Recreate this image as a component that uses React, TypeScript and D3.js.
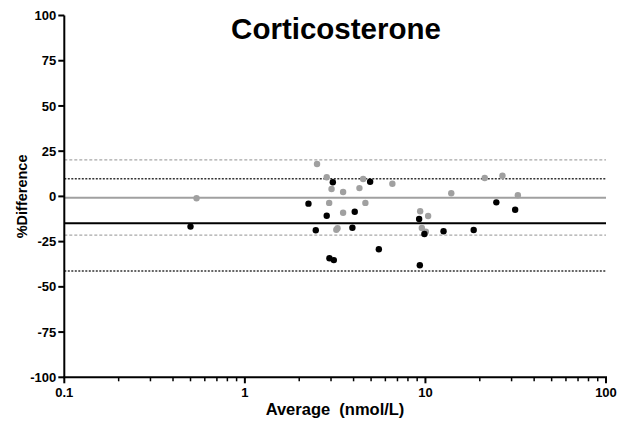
import React from "react";
import * as d3 from "d3";

const grayX = [0.54, 2.51, 2.84, 3.02, 3.5, 4.52, 4.31, 6.56, 2.93, 4.65, 3.5, 3.21, 3.26, 9.35, 10.35, 9.55, 10.05, 13.9, 21.3, 26.7, 32.5];
const grayY = [-1.0, 17.9, 10.6, 4.1, 2.4, 9.6, 4.6, 7.0, -3.6, -3.6, -9.0, -18.4, -17.6, -8.2, -10.8, -17.5, -19.5, 1.7, 10.2, 11.4, 0.6];
const blackX = [0.5, 3.07, 4.94, 2.25, 4.06, 2.84, 2.47, 3.94, 5.52, 2.94, 3.11, 9.31, 9.23, 9.87, 12.6, 18.5, 24.7, 31.4];
const blackY = [-16.7, 7.8, 8.1, -4.0, -8.5, -10.7, -18.7, -17.3, -29.2, -34.2, -35.2, -38.1, -12.5, -20.8, -19.3, -18.6, -3.3, -7.4];
const grayLines = { mean: -0.7, upper: 20.2, lower: -21.4 };
const blackLines = { mean: -14.8, upper: 9.7, lower: -41.3 };
const yTicks = [100, 75, 50, 25, 0, -25, -50, -75, -100];
const xTicks = [0.1, 1, 10, 100];
const xTickLabels = ["0.1", "1", "10", "100"];
const title = "Corticosterone";

export default function App() {
  const W = 624, H = 424;
  const x = d3.scaleLog().domain([0.1, 100]).range([64.3, 606]);
  const y = d3.scaleLinear().domain([-100, 100]).range([377.3, 15.5]);
  const minor: number[] = [];
  for (const d of [0.1, 1, 10]) for (let k = 2; k <= 9; k++) minor.push(d * k);
  const font = "'Liberation Sans', Arial, sans-serif";
  const x0 = x.range()[0], x1 = x.range()[1];
  const hline = (v: number, stroke: string, dash: string | undefined, w: number, key: string) => (
    <line key={key} x1={x0} x2={x1} y1={y(v)} y2={y(v)} stroke={stroke} strokeWidth={w} strokeDasharray={dash} />
  );
  return (
    <svg width={W} height={H} style={{ position: "absolute", left: 0, top: 0, background: "#fff" }}>
      <rect width={W} height={H} fill="#fff" />
      <text x={336} y={39} textAnchor="middle" fontFamily={font} fontWeight="bold" fontSize={29.5}>{title}</text>
      {hline(grayLines.upper, "#a8a8a8", "3,2", 1.2, "gu")}
      {hline(grayLines.lower, "#a8a8a8", "3,2", 1.2, "gl")}
      {hline(grayLines.mean, "#a0a0a0", undefined, 2, "gm")}
      {hline(blackLines.upper, "#333", "2,1.5", 1.5, "bu")}
      {hline(blackLines.lower, "#333", "2,1.5", 1.5, "bl")}
      {hline(blackLines.mean, "#000", undefined, 2, "bm")}
      {grayX.map((v, i) => <circle key={"g" + i} cx={x(v)} cy={y(grayY[i])} r={3.2} fill="#a0a0a0" />)}
      {blackX.map((v, i) => <circle key={"b" + i} cx={x(v)} cy={y(blackY[i])} r={3.2} fill="#000" />)}
      <line x1={x0} x2={x0} y1={y(100)} y2={y(-100)} stroke="#000" strokeWidth={2} />
      <line x1={x0 - 1} x2={x1 + 1} y1={y(-100)} y2={y(-100)} stroke="#000" strokeWidth={2} />
      {yTicks.map((t) => (
        <g key={"yt" + t}>
          <line x1={x0 - 6} x2={x0} y1={y(t)} y2={y(t)} stroke="#000" strokeWidth={2} />
          <text x={x0 - 8} y={y(t)} dy="0.35em" textAnchor="end" fontFamily={font} fontWeight="bold" fontSize={13}>{t}</text>
        </g>
      ))}
      {xTicks.map((t, i) => (
        <g key={"xt" + t}>
          <line x1={x(t)} x2={x(t)} y1={y(-100)} y2={y(-100) + 6} stroke="#000" strokeWidth={2} />
          <text x={x(t)} y={y(-100) + 20} textAnchor="middle" fontFamily={font} fontWeight="bold" fontSize={13}>{xTickLabels[i]}</text>
        </g>
      ))}
      {minor.map((t) => (
        <line key={"m" + t} x1={x(t)} x2={x(t)} y1={y(-100)} y2={y(-100) + 4} stroke="#000" strokeWidth={1.5} />
      ))}
      <text x={335} y={415} textAnchor="middle" fontFamily={font} fontWeight="bold" fontSize={16.5} style={{ whiteSpace: "pre" }}>Average  (nmol/L)</text>
      <text transform={`translate(27,${y(0)}) rotate(-90)`} textAnchor="middle" fontFamily={font} fontWeight="bold" fontSize={14.5}>%Difference</text>
    </svg>
  );
}
